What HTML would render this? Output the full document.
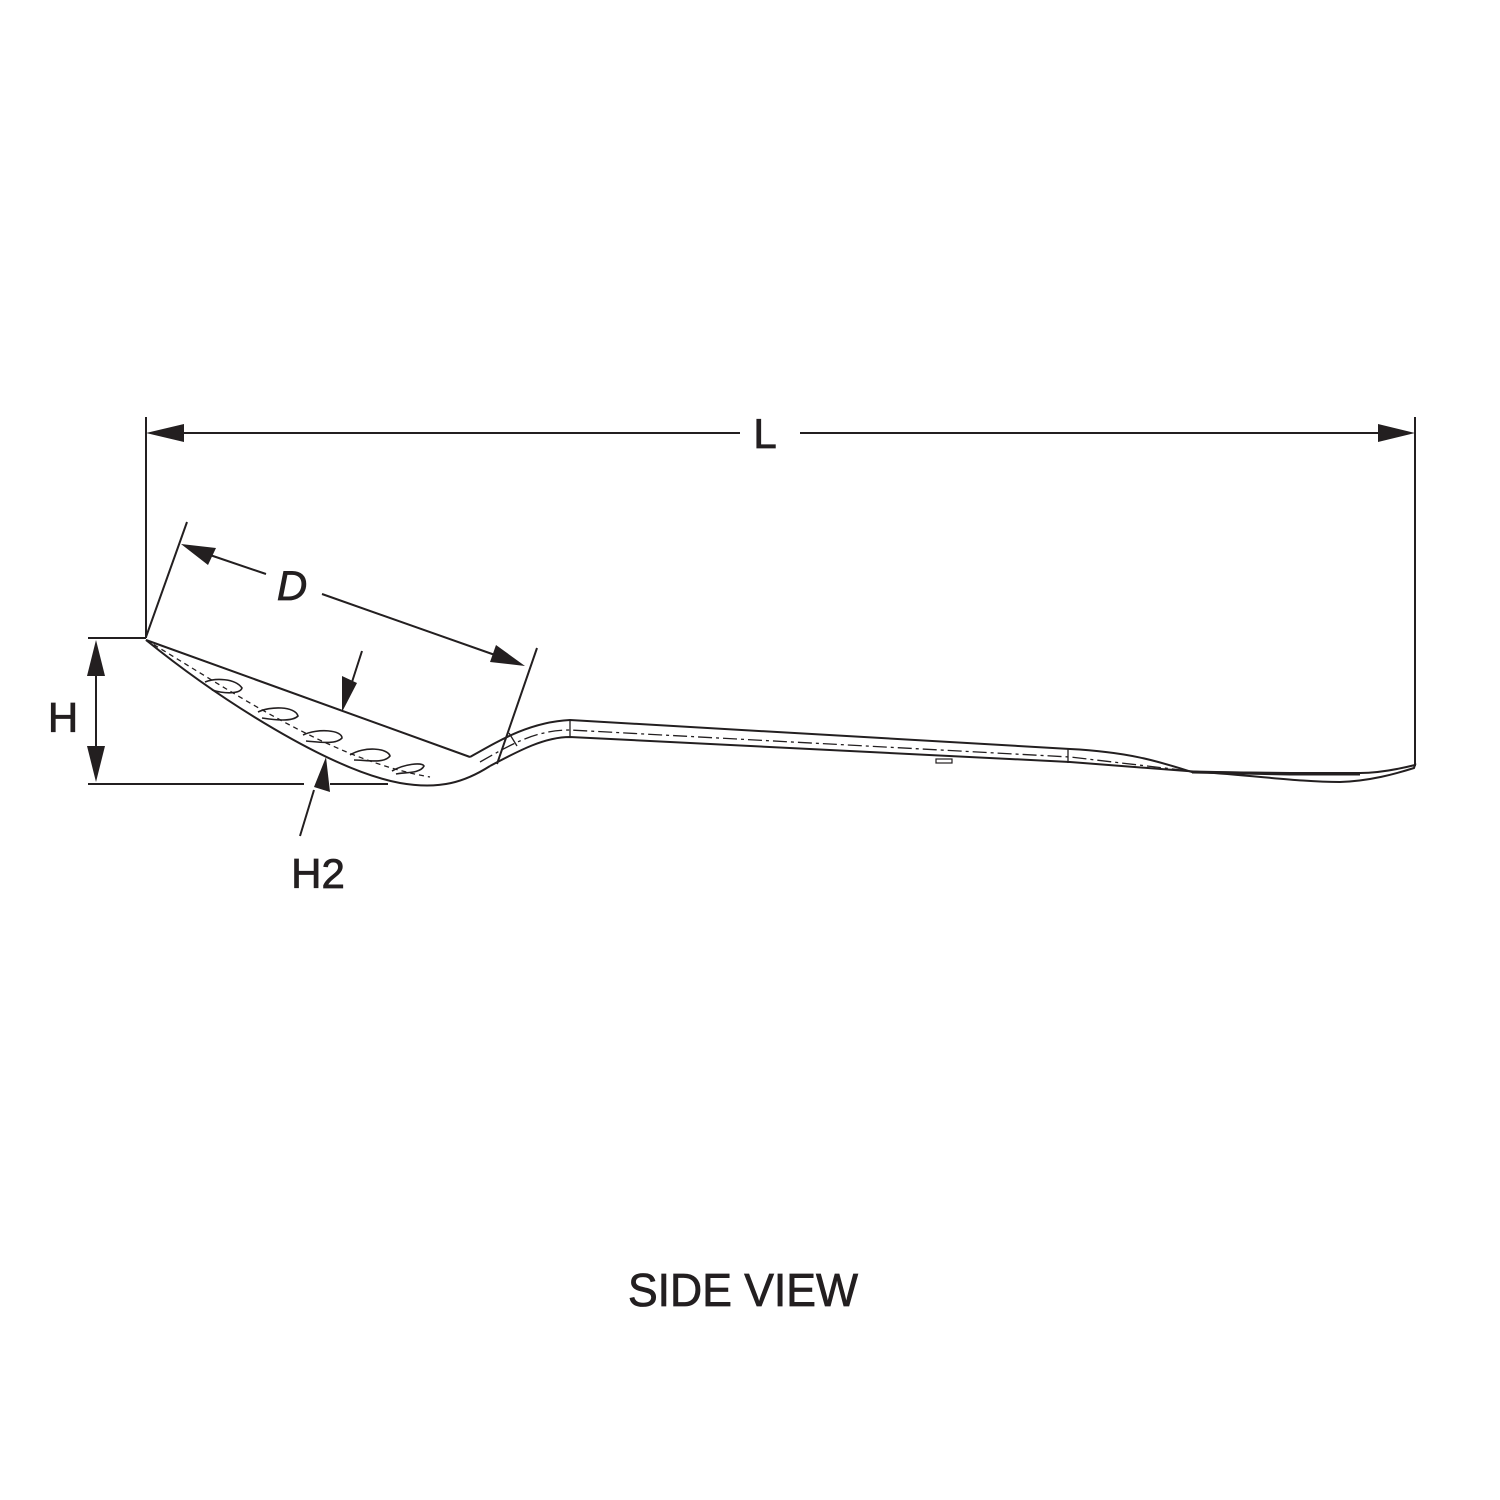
<!DOCTYPE html>
<html><head><meta charset="utf-8"><style>
html,body{margin:0;padding:0;background:#fff;}
svg{display:block}
</style></head><body>
<svg width="1500" height="1500" viewBox="0 0 1500 1500" xmlns="http://www.w3.org/2000/svg">
<g stroke="#231f20" fill="none" stroke-width="2">
<line x1="146" y1="417" x2="146" y2="638"/>
<line x1="1415" y1="417" x2="1415" y2="766"/>
<line x1="180" y1="433" x2="740" y2="433"/>
<line x1="800" y1="433" x2="1382" y2="433"/>
<line x1="88" y1="638" x2="146" y2="638"/>
<line x1="88" y1="784" x2="304" y2="784"/>
<line x1="330" y1="784" x2="388" y2="784"/>
<line x1="96" y1="670" x2="96" y2="752"/>
<line x1="187" y1="522" x2="146" y2="637"/>
<line x1="537" y1="648" x2="497" y2="764"/>
<line x1="210" y1="555" x2="266" y2="574"/>
<line x1="322" y1="594" x2="495" y2="655"/>
<line x1="362" y1="651" x2="352" y2="682"/>
<line x1="300" y1="836" x2="314" y2="790"/>
<path d="M146,640 L470,757" />
<path d="M146,640 C220,700 330,770 400,783 C440,790 465,782 490,766"/>
<path d="M146,640 C230,690 330,760 430,777" stroke-dasharray="5,4" stroke-width="1.3"/>
<path d="M470,757 C500,740 530,722 570,720 L1070,749 C1130,752 1160,762 1192,772 L1290,773 L1360,773"/>
<path d="M490,766 C520,750 545,737 570,737 L1070,762 L1200,772 C1260,776 1300,782 1340,782 C1370,781 1395,774 1414,768 L1415,765 C1395,770 1375,773 1360,773"/>
<path d="M1192,772 L1290,774 L1360,774" stroke-width="3"/>
<path d="M480,762 C510,745 535,730 570,730 L1070,757 L1190,771" stroke-dasharray="14,4,3,4" stroke-width="1.3"/>
<line x1="570" y1="720" x2="570" y2="737" stroke-width="1.3"/>
<line x1="1068" y1="749" x2="1068" y2="763" stroke-width="1.3"/>
<line x1="509" y1="733" x2="517" y2="746" stroke-width="1.3"/>
<rect x="936" y="759" width="16" height="4" stroke-width="1.2"/>
<g stroke-width="1.6">
<path d="M205,682 C215,678 235,678 242,688 C240,694 225,694 212,690"/>
<path d="M258,712 C270,706 295,706 298,716 C292,722 275,720 262,718"/>
<path d="M303,735 C318,728 342,730 342,738 C336,745 318,742 306,741"/>
<path d="M350,755 C364,746 388,748 390,756 C384,764 366,760 354,760"/>
<path d="M392,771 C404,764 422,762 424,766 C420,774 404,772 396,774"/>
</g>
</g>
<g fill="#231f20">
<polygon points="146,433 184,424 184,442"/>
<polygon points="1415,433 1378,424 1378,442"/>
<polygon points="96,640 87,676 105,676"/>
<polygon points="96,782 87,746 105,746"/>
<polygon points="181,544 216,548 208,565"/>
<polygon points="525,666 490,662 496,645"/>
<polygon points="342,712 342,676 357,683"/>
<polygon points="326,757 330,792 314,787"/>
</g>
<g font-family="Liberation Sans, sans-serif" fill="#231f20" stroke="#231f20" stroke-width="0.8" font-size="42">
<text x="765" y="448" text-anchor="middle">L</text>
<text x="292" y="600" text-anchor="middle" font-style="italic">D</text>
<text x="63" y="732" text-anchor="middle">H</text>
<text x="318" y="888" text-anchor="middle">H2</text>
<text x="743" y="1306" text-anchor="middle" font-size="46" textLength="230" lengthAdjust="spacingAndGlyphs">SIDE VIEW</text>
</g>
</svg>
</body></html>
